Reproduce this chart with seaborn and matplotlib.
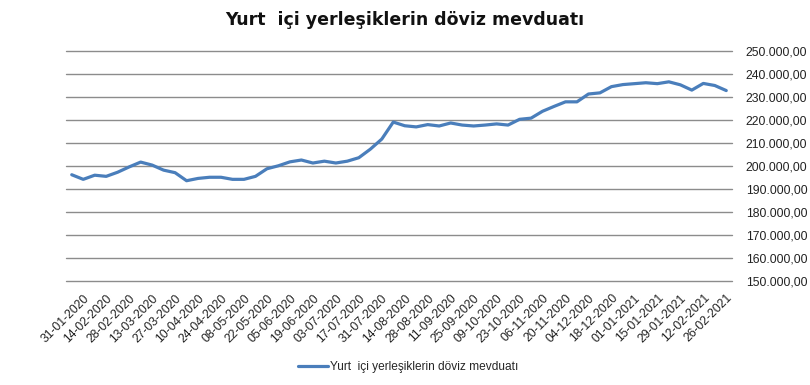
import matplotlib
matplotlib.use("Agg")
import matplotlib.pyplot as plt
import seaborn as sns
import numpy as np
import pandas as pd

dates = [
    "24-01-2020", "31-01-2020", "07-02-2020", "14-02-2020", "21-02-2020", "28-02-2020",
    "06-03-2020", "13-03-2020", "20-03-2020", "27-03-2020", "03-04-2020", "10-04-2020",
    "17-04-2020", "24-04-2020", "01-05-2020", "08-05-2020", "15-05-2020", "22-05-2020",
    "29-05-2020", "05-06-2020", "12-06-2020", "19-06-2020", "26-06-2020", "03-07-2020",
    "10-07-2020", "17-07-2020", "24-07-2020", "31-07-2020", "07-08-2020", "14-08-2020",
    "21-08-2020", "28-08-2020", "04-09-2020", "11-09-2020", "18-09-2020", "25-09-2020",
    "02-10-2020", "09-10-2020", "16-10-2020", "23-10-2020", "30-10-2020", "06-11-2020",
    "13-11-2020", "20-11-2020", "27-11-2020", "04-12-2020", "11-12-2020", "18-12-2020",
    "25-12-2020", "01-01-2021", "08-01-2021", "15-01-2021", "22-01-2021", "29-01-2021",
    "05-02-2021", "12-02-2021", "19-02-2021", "26-02-2021",
]

deposits = [
    196200, 194200, 196000, 195500, 197300, 199600, 201700, 200400, 198200, 197100,
    193600, 194600, 195100, 195100, 194200, 194200, 195500, 198800, 200100, 201800,
    202600, 201300, 202100, 201300, 202100, 203600, 207300, 211700, 219100, 217500,
    217000, 218000, 217400, 218700, 217800, 217400, 217800, 218300, 217800, 220300,
    220800, 223800, 225900, 227900, 227900, 231300, 231800, 234500, 235400, 235800,
    236200, 235800, 236600, 235300, 233000, 235900, 235000, 232800,
]

series_name = "Yurt  içi yerleşiklerin döviz mevduatı"
title = "Yurt  içi yerleşiklerin döviz mevduatı"
y_ticks = list(range(150000, 250001, 10000))

df = pd.DataFrame({"pos": np.arange(len(dates)), "date": dates, "value": deposits})

sns.set_theme(style="white")
plt.rcParams["font.family"] = ["Liberation Sans", "DejaVu Sans"]

fig = plt.figure(figsize=(8.1, 3.85), dpi=100)
ax = fig.add_axes([66 / 810, 1 - 281 / 385, (732 - 66) / 810, (281 - 51) / 385])

sns.lineplot(data=df, x="pos", y="value", ax=ax, color="#4a7ebb", linewidth=2.3,
             label=series_name, legend=False)

ax.set_xlim(-0.5, len(dates) - 0.5)
ax.set_ylim(150000, 250000)
ax.set_yticks(y_ticks)
ax.set_yticklabels([f"{v:,.2f}".replace(",", "X").replace(".", ",").replace("X", ".") for v in y_ticks],
                   fontsize=8.8, color="#222222")
ax.yaxis.tick_right()
ax.tick_params(axis="y", length=0, pad=10)

tick_pos = df["pos"].values[1::2]
ax.set_xticks(tick_pos)
ax.set_xticklabels(df["date"].values[1::2], rotation=45, ha="right",
                   rotation_mode="anchor", fontsize=8.8, color="#222222")
ax.tick_params(axis="x", length=0, pad=8)

ax.grid(axis="y", color="#8c8c8c", linewidth=1.0)
ax.grid(axis="x", visible=False)
for gl in ax.get_ygridlines():
    gl.set_clip_on(False)
for s in ax.spines.values():
    s.set_visible(False)
ax.set_xlabel("")
ax.set_ylabel("")

fig.text(0.5, 1 - 20 / 385, title, ha="center", va="center", fontsize=12.5,
         fontweight="bold", color="#111111", family=["DejaVu Sans"])

handles, labels = ax.get_legend_handles_labels()
fig.legend(handles, labels, loc="center", bbox_to_anchor=(408 / 810, 1 - 367 / 385),
           frameon=False, fontsize=8.6, handlelength=2.5, handletextpad=0.2)

fig.savefig("out.png", dpi=100)
